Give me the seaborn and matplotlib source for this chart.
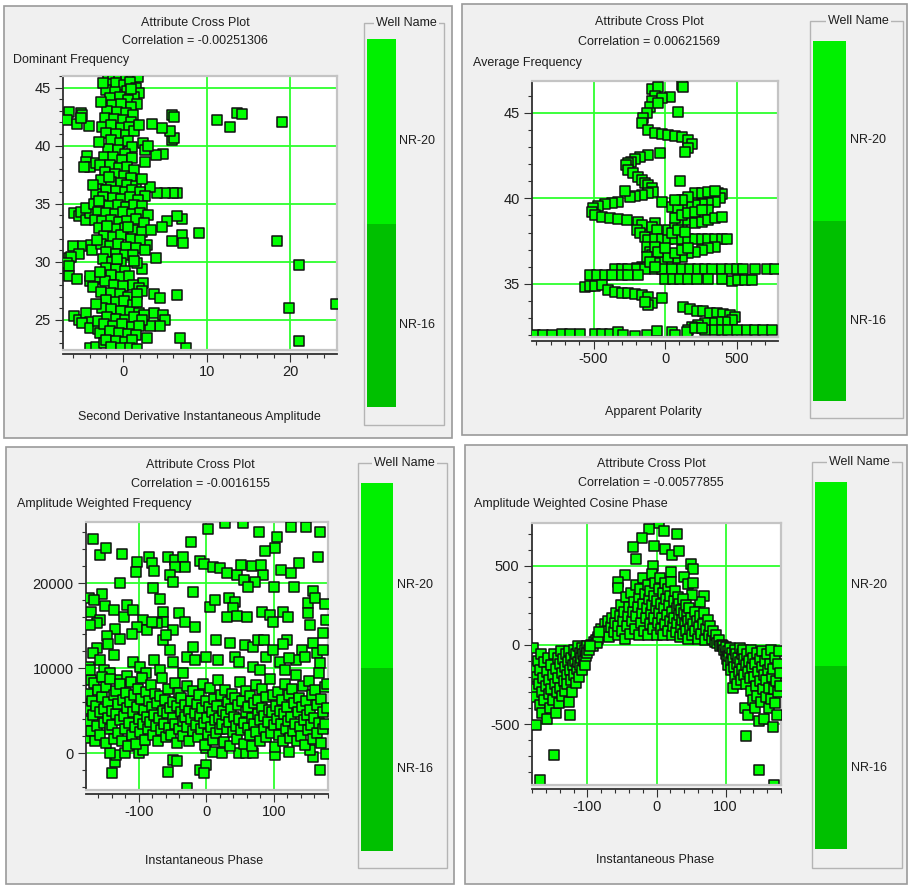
import numpy as np
import matplotlib
matplotlib.use("Agg")
import matplotlib.pyplot as plt
from matplotlib.patches import Rectangle
from matplotlib.ticker import MultipleLocator, FixedLocator
import seaborn as sns

plt.rcParams['font.family'] = ['Liberation Sans', 'DejaVu Sans']

# ---------------- data ----------------
titles = ["Attribute Cross Plot"] * 4
correlations = ["Correlation = -0.00251306", "Correlation = 0.00621569",
                "Correlation = -0.0016155", "Correlation = -0.00577855"]
y_names = ["Dominant Frequency", "Average Frequency",
           "Amplitude Weighted Frequency", "Amplitude Weighted Cosine Phase"]
x_names = ["Second Derivative Instantaneous Amplitude", "Apparent Polarity",
           "Instantaneous Phase", "Instantaneous Phase"]
wells = ["NR-20", "NR-16"]
well_colors = ["#00f000", "#00c000"]

# Panel 1: Second Derivative Instantaneous Amplitude vs Dominant Frequency
dom_freq_pts = [
    (11.2, 42.25), (12.8, 41.6), (13.6, 42.8), (14.2, 42.7), (19.0, 42.0), (18.4, 31.8),
    (21.1, 29.7), (19.8, 26.0), (25.5, 26.35), (21.1, 23.2), (9.1, 32.5), (7.5, 22.6),
    (6.8, 23.4), (6.4, 27.1), (5.8, 40.5), (6.1, 40.7), (5.9, 42.6), (6.1, 42.5),
    (6.5, 35.95), (6.0, 35.9), (5.0, 35.95), (7.0, 33.65), (6.5, 33.9), (7.0, 32.3),
    (7.2, 31.6), (5.8, 31.8), (5.6, 41.3), (4.7, 41.5), (4.8, 39.3), (3.9, 39.2),
    (4.0, 35.9), (3.2, 36.4), (5.2, 33.5), (4.7, 33.0), (3.9, 30.3), (2.8, 31.45),
    (3.7, 27.2), (4.4, 26.9), (3.7, 25.55), (4.8, 25.4), (5.0, 25.0), (4.4, 24.5),
    (3.2, 24.5), (2.8, 23.4), (3.4, 41.9), (2.2, 29.35), (2.4, 28.15),
    (-6.5, 42.9), (-5.1, 42.8), (-4.9, 42.6), (-6.7, 42.2), (-5.5, 41.9), (-4.1, 41.7),
    (-5.0, 42.4), (-4.3, 39.1), (-4.5, 38.6), (-4.0, 38.2), (-3.2, 38.5), (-4.7, 38.2),
    (-5.9, 34.2), (-5.3, 33.9), (-5.1, 34.3), (-4.4, 33.6), (-4.0, 34.2), (-4.5, 34.6),
    (-6.0, 31.4), (-4.8, 31.4), (-5.3, 30.7), (-3.9, 31.45), (-3.7, 31.0),
    (-6.5, 30.3), (-6.3, 30.45), (-6.7, 29.9), (-6.5, 29.6), (-6.5, 28.8),
    (-5.5, 28.5), (-4.0, 28.3), (-3.4, 28.5), (-3.0, 28.7), (-4.0, 28.8), (-3.6, 27.8),
    (-5.9, 25.3), (-5.3, 24.95), (-4.5, 25.6), (-4.0, 24.8), (-4.95, 24.7), (-4.0, 24.3),
    (-3.0, 24.2), (-3.0, 24.9), (-4.0, 22.6), (-3.2, 22.7), (-2.75, 23.85), (-2.35, 23.0),
    (-1.8, 45.9), (-1.2, 45.8), (-0.5, 45.9), (0.3, 45.8), (1.0, 45.9), (1.8, 45.9),
    (-1.5, 45.3), (-0.8, 45.4), (0.1, 45.2), (0.8, 45.5), (1.5, 45.0), (-2.0, 44.8),
    (-1.0, 44.6), (0.5, 44.7), (1.9, 44.5), (1.3, 44.2), (-1.6, 44.1), (-0.4, 44.2),
    (0.6, 43.9), (1.6, 43.6), (-1.3, 43.5), (-0.2, 43.6), (0.9, 43.3), (-1.9, 43.0),
    (-0.7, 42.9), (0.4, 42.8), (1.2, 42.6), (-2.2, 42.4), (-1.1, 42.3), (0.0, 42.2),
    (0.9, 42.0), (-2.5, 41.6), (-1.5, 41.8), (-0.3, 41.5), (0.7, 41.6), (-2.0, 41.1),
    (-0.9, 41.0), (0.3, 40.9), (1.3, 41.3), (-1.4, 40.5), (-0.4, 40.2), (0.6, 40.4),
    (1.0, 39.9), (2.4, 40.2), (2.6, 39.6), (3.0, 40.0), (-1.8, 39.7), (-0.6, 39.6),
    (0.2, 39.3), (-2.3, 39.0), (-1.2, 39.0), (-0.1, 38.8), (1.0, 38.9), (2.6, 38.6),
    (-2.8, 38.3), (-1.6, 38.3), (-0.5, 38.1), (0.5, 38.2), (1.3, 37.9), (-2.2, 37.7),
    (-1.0, 37.6), (0.1, 37.4), (0.9, 37.2), (-2.6, 37.0), (-1.4, 36.9), (-0.3, 36.8),
    (0.5, 36.6), (1.5, 36.5), (-3.0, 36.3), (-2.0, 36.2), (-0.8, 36.1), (0.2, 36.0),
    (1.0, 36.2), (2.0, 36.0), (2.6, 35.7), (-3.3, 35.8), (-2.4, 35.6), (-1.2, 35.5),
    (-0.2, 35.4), (0.8, 35.6), (1.8, 35.3), (-3.5, 35.0), (-2.7, 34.9), (-1.7, 34.8),
    (-0.6, 34.9), (0.4, 34.7), (1.3, 34.9), (2.3, 34.8), (-3.0, 34.3), (-2.0, 34.2),
    (-1.0, 34.1), (0.0, 34.3), (1.0, 34.1), (2.0, 34.2), (3.0, 34.0), (-3.4, 33.6),
    (-2.5, 33.5), (-1.5, 33.6), (-0.5, 33.4), (0.5, 33.5), (1.5, 33.7), (2.5, 33.3),
    (-2.9, 32.9), (-1.9, 32.9), (-0.9, 32.8), (0.2, 32.9), (1.2, 32.7), (2.2, 32.6),
    (3.3, 32.7), (-2.3, 32.2), (-1.2, 32.1), (-0.2, 32.3), (0.9, 32.0), (2.0, 31.9),
    (-2.7, 31.5), (-1.6, 31.4), (-0.6, 31.5), (0.4, 31.3), (1.5, 31.2), (2.6, 31.0),
    (-2.0, 30.8), (-0.9, 30.7), (0.2, 30.6), (1.2, 30.6), (-2.4, 30.2), (-1.3, 30.0),
    (-0.2, 29.9), (-2.0, 29.5), (-0.9, 29.4), (0.2, 29.2), (-1.5, 28.9), (-0.3, 28.7),
    (0.7, 28.8), (-2.2, 28.3), (-1.1, 28.0), (0.0, 27.9), (1.2, 28.0), (1.9, 27.7),
    (2.3, 27.5), (-2.6, 27.4), (-1.5, 27.3), (-0.4, 27.2), (0.6, 27.0), (1.6, 27.2),
    (-2.0, 26.7), (-0.9, 26.5), (0.1, 26.6), (1.2, 26.3), (-2.5, 26.0), (-1.4, 25.9),
    (-0.3, 25.8), (0.8, 25.7), (1.9, 25.6), (2.5, 25.4), (-1.9, 25.2), (-0.8, 25.1),
    (0.2, 25.0), (1.3, 25.2), (2.2, 25.0), (-2.3, 24.6), (-1.2, 24.5), (-0.1, 24.6),
    (1.0, 24.4), (1.9, 24.5), (-1.6, 24.0), (-0.5, 23.9), (0.6, 23.8), (1.5, 23.7),
    (-2.0, 23.3), (-0.9, 23.2), (0.2, 23.1), (1.1, 23.3), (-1.4, 22.7), (-0.3, 22.6),
    (0.8, 22.6), (1.6, 22.5),
    (-2.9, 35.2), (-1.9, 33.1), (-3.1, 31.9), (0.6, 33.0), (-0.7, 30.2), (1.7, 29.9),
    (-1.7, 37.3), (2.2, 37.1), (-3.6, 36.6), (-2.9, 40.3), (1.9, 41.8), (-2.6, 43.8),
    (0.9, 44.9), (-2.4, 45.4), (1.3, 30.1), (-3.3, 26.4), (1.7, 26.5), (-2.8, 29.1),
]

# Panel 2: Apparent Polarity vs Average Frequency
avg_freq_pts = [
    (-93, 46.4), (-47, 46.5), (-70, 46.0), (-93, 45.7), (-105, 45.35), (-128, 44.96),
    (-152, 44.67), (-163, 44.38), (35, 45.9), (89, 45.06), (117, 46.6), (128, 46.5),
    (-23, 45.84), (-47, 45.55),
    (-117, 43.99), (-70, 43.83), (-23, 43.75), (23, 43.7), (70, 43.64), (117, 43.56),
    (163, 43.4), (186, 43.17), (163, 42.92), (140, 42.72),
    (-35, 42.63), (-117, 42.53), (-175, 42.43), (-210, 42.28), (-238, 42.14), (-256, 42.04),
    (-275, 41.95), (-256, 41.65), (-221, 41.46), (-186, 41.26), (-163, 41.07), (-140, 40.91),
    (-117, 40.78), (-93, 40.58), (-82, 40.39), (-117, 40.29), (-163, 40.19), (-210, 40.14),
    (-245, 40.1), (-280, 40.45), (-23, 39.8), (107, 41.03),
    (-326, 39.8), (-373, 39.71), (-420, 39.67), (-466, 39.55), (-501, 39.42), (-513, 39.22),
    (-490, 39.03), (-443, 38.93), (-385, 38.87), (-326, 38.81), (-268, 38.74),
    (-191, 38.64), (-163, 38.44), (-198, 38.15), (-175, 37.96), (-140, 37.76), (-117, 37.57),
    (-128, 37.18), (-105, 36.89), (-93, 36.69), (-70, 38.54), (-93, 38.35), (-58, 38.15),
    (140, 39.9), (186, 40.0), (233, 40.1), (280, 40.19), (326, 40.29), (373, 40.33),
    (396, 40.25), (385, 40.0), (350, 39.8), (303, 39.71), (256, 39.67), (210, 39.61),
    (163, 39.55), (117, 39.51), (70, 39.71), (47, 39.51), (93, 39.42),
    (210, 40.33), (256, 40.33), (303, 40.39), (350, 40.45), (163, 40.1), (117, 39.9), (70, 39.9),
    (-70, 37.65), (-23, 37.65), (23, 37.65), (70, 37.65), (117, 37.65), (163, 37.65),
    (210, 37.65), (256, 37.65), (303, 37.65), (350, 37.65), (396, 37.65), (431, 37.65),
    (350, 37.18), (303, 37.08), (256, 36.98), (210, 36.89), (163, 36.79), (117, 36.6),
    (70, 36.5), (23, 36.4), (-23, 36.3), (-70, 36.2), (-117, 36.1), (-163, 36.01), (-198, 35.91),
    (-350, 35.86), (-303, 35.86), (-256, 35.86), (-198, 35.86), (-140, 35.86), (-70, 35.86),
    (-23, 35.86), (47, 35.86), (117, 35.86), (175, 35.86), (233, 35.86), (280, 35.86),
    (326, 35.86), (396, 35.86), (455, 35.86), (501, 35.86), (548, 35.86), (629, 35.86),
    (711, 35.86), (769, 35.86),
    (-524, 35.53), (-478, 35.53), (-420, 35.53), (-373, 35.53), (-303, 35.53), (-256, 35.53),
    (-186, 35.53),
    (0, 35.27), (58, 35.27), (105, 35.27), (163, 35.27), (221, 35.27), (303, 35.27),
    (396, 35.27), (466, 35.15), (513, 35.2), (559, 35.2), (606, 35.2),
    (-559, 34.84), (-524, 34.88), (-490, 34.88), (-443, 34.94), (-396, 34.65), (-350, 34.55),
    (-303, 34.49), (-256, 34.46), (-210, 34.42), (-163, 34.36), (-117, 34.26), (-93, 33.87),
    (-117, 33.77), (-140, 33.97), (-23, 34.2),
    (128, 33.64), (175, 33.52), (221, 33.44), (268, 33.39), (315, 33.33), (361, 33.29),
    (408, 33.25), (455, 33.19), (490, 33.09), (466, 32.9), (420, 32.8), (373, 32.78),
    (326, 32.74), (280, 32.7), (233, 32.6), (186, 32.47), (163, 32.32),
    (280, 32.28), (350, 32.28), (396, 32.28), (443, 32.28), (501, 32.28), (571, 32.33),
    (629, 32.33), (688, 32.33), (746, 32.33),
    (-909, 32.02), (-851, 32.02), (-793, 32.02), (-723, 32.07), (-664, 32.07), (-594, 32.07),
    (-490, 32.05), (-443, 32.05), (-385, 32.1), (-326, 32.2), (-291, 32.02), (-210, 31.97),
    (-128, 32.02), (-58, 32.26), (47, 32.22), (70, 32.02), (152, 32.22), (210, 32.41),
    (256, 32.41),
    (23, 36.6), (70, 36.79), (117, 36.98), (163, 37.08), (-70, 37.18), (-47, 36.89),
    (0, 37.08), (23, 38.15), (70, 38.35), (117, 38.54), (163, 38.74), (210, 38.93),
    (256, 39.12), (303, 39.32), (70, 38.83), (117, 39.03), (163, 39.12), (210, 39.22),
    (256, 39.32), (47, 37.96), (93, 38.15), (140, 38.05), (210, 38.54), (256, 38.64),
    (303, 38.74), (350, 38.83), (396, 38.93), (-128, 36.6), (-105, 36.3), (-70, 36.01),
]

# Panel 3: Instantaneous Phase vs Amplitude Weighted Frequency
awf_pts = [
    (-168, 25170), (-158, 23320), (-148, 24110), (-125, 23400), (-128, 20070), (-103, 22540),
    (-104, 21290), (-85, 23130), (-80, 22340), (-77, 21440), (-79, 19480), (-154, 18780),
    (-173, 18310), (-166, 18030), (-171, 16660), (-150, 17330), (-136, 16860), (-22, 24810),
    (3, 26340), (28, 27120), (54, 27050), (78, 26070), (105, 25480), (126, 26660),
    (147, 26660), (168, 26070), (101, 24110), (87, 23790), (165, 23050), (137, 22420),
    (111, 21560), (126, 21250), (84, 20970), (72, 20190), (100, 19600), (129, 19600),
    (158, 19130), (-56, 23050), (-46, 22740), (-34, 23050), (-32, 21950), (-46, 21950),
    (-53, 20970), (-50, 20190), (-10, 22660), (-3, 22270), (10, 21950), (20, 21760),
    (30, 21170), (46, 20970), (51, 22150), (68, 22030), (81, 22150), (55, 20380),
    (62, 19600), (-20, 18930), (-69, 18110), (-64, 16660), (-41, 16460), (-32, 15480),
    (-17, 14900), (5, 17250), (13, 18030), (33, 18230), (42, 17840), (40, 17050),
    (30, 16070), (46, 16150), (60, 16070), (82, 16660), (94, 16270), (99, 15480),
    (114, 16660), (121, 16070), (150, 17720), (161, 18230), (176, 17560), (177, 15680),
    (151, 16460), (153, 15090), (172, 14110), (158, 12940), (141, 12150), (133, 10980),
    (119, 13330), (114, 12860), (146, 11370), (163, 11760), (172, 12150), (168, 10580),
    (-118, 17440), (-122, 16070), (-108, 16860), (-93, 15680), (-103, 14900), (-110, 14030),
    (-128, 13410), (-135, 14580), (-147, 13800), (-146, 12860), (-162, 12350), (-167, 11760),
    (-157, 10980), (-173, 10190), (-176, 9410), (-170, 8620), (-152, 9800), (-137, 11560),
    (-142, 9410), (-128, 8620), (-118, 9090), (-108, 10780), (-98, 10190), (-89, 9410),
    (-78, 10980), (-68, 9800), (-54, 12150), (-49, 10780), (-34, 9410), (-29, 11370),
    (-19, 12540), (-17, 10980), (0, 11370), (15, 13330), (18, 10980), (35, 12940),
    (42, 11370), (49, 10780), (57, 12740), (69, 12540), (76, 13330), (86, 13330),
    (69, 10190), (79, 9800), (89, 11370), (99, 12150), (109, 10780), (116, 9800),
    (123, 11170), (-64, 15480), (-49, 14500), (-64, 13330), (-59, 13920), (-88, 14500),
    (-73, 15290), (-80, 15480), (-157, 15680), (-162, 15290), (-172, 15090),
    (-140, -2350), (-135, -980), (-49, -780), (-44, -900), (-56, -2160), (-9, -1960),
    (0, -1370), (-3, -2350), (-28, -4120), (168, -1960), (158, -470), (177, -80),
    (-133, -200), (-142, 0), (-120, 0), (-99, 0), (-93, 390), (0, 590), (10, 200),
    (23, 0), (49, 0), (59, 0), (69, 0), (101, -200), (123, 200), (153, 390),
    (-178, 5200), (-176, 1800), (-175, 7000), (-173, 3800), (-172, 9800), (-170, 2600),
    (-169, 6200), (-167, 4500), (-166, 8300), (-164, 1500), (-163, 5600), (-161, 3200),
    (-160, 7400), (-158, 4800), (-157, 2100), (-155, 6600), (-154, 9000), (-152, 3600),
    (-151, 5200), (-149, 1200), (-148, 7800), (-146, 4200), (-145, 6000), (-143, 2800),
    (-142, 8700), (-140, 5000), (-139, 3300), (-137, 6900), (-136, 1700), (-134, 4600),
    (-133, 7300), (-131, 2400), (-130, 5800), (-128, 3900), (-127, 8100), (-125, 1400),
    (-124, 6300), (-122, 4400), (-121, 2900), (-119, 7100), (-118, 5300), (-116, 900),
    (-115, 3600), (-113, 6000), (-112, 8400), (-110, 2200), (-109, 4900), (-107, 6800),
    (-106, 3100), (-104, 1100), (-103, 5400), (-101, 7600), (-100, 4000), (-98, 2500),
    (-97, 6400), (-95, 8900), (-94, 3500), (-92, 5100), (-91, 1600), (-89, 7200),
    (-88, 4300), (-86, 2900), (-85, 6100), (-83, 3700), (-82, 8000), (-80, 5500),
    (-79, 2100), (-77, 4500), (-76, 7000), (-74, 3200), (-73, 5900), (-71, 1500),
    (-70, 4100), (-68, 6700), (-67, 2700), (-65, 8800), (-64, 5000), (-62, 3500),
    (-61, 6300), (-59, 1900), (-58, 4700), (-56, 7500), (-55, 3000), (-53, 5300),
    (-52, 2200), (-50, 6000), (-49, 4200), (-47, 8300), (-46, 3400), (-44, 1200),
    (-43, 5600), (-41, 7100), (-40, 2800), (-38, 4900), (-37, 6500), (-35, 3800),
    (-34, 2000), (-32, 5700), (-31, 4300), (-29, 7900), (-28, 3100), (-26, 5000),
    (-25, 1400), (-23, 6200), (-22, 4000), (-20, 2600), (-19, 7300), (-17, 4700),
    (-16, 3300), (-14, 5800), (-13, 1900), (-11, 6900), (-10, 4400), (-8, 2900),
    (-7, 5300), (-5, 8200), (-4, 3600), (-2, 1000), (-1, 6100), (1, 4200),
    (2, 2300), (4, 5400), (5, 7700), (7, 3100), (8, 4800), (10, 1600),
    (11, 6400), (13, 3900), (14, 2400), (16, 5600), (17, 8600), (19, 4100),
    (20, 2800), (22, 6800), (23, 3400), (25, 5000), (26, 1300), (28, 7400),
    (29, 4500), (31, 2900), (32, 6000), (34, 3700), (35, 800), (37, 5200),
    (38, 7000), (40, 2500), (41, 4300), (43, 6500), (44, 3200), (46, 1700),
    (47, 5700), (49, 4000), (50, 8400), (52, 2700), (53, 6100), (55, 3600),
    (56, 1100), (58, 4900), (59, 7300), (61, 3000), (62, 5500), (64, 2100),
    (65, 6700), (67, 4200), (68, 900), (70, 3500), (71, 5900), (73, 8000),
    (74, 2500), (76, 4600), (77, 6300), (79, 1500), (80, 3900), (82, 5300),
    (83, 7500), (85, 2800), (86, 4400), (88, 6600), (89, 1900), (91, 3700),
    (92, 5100), (94, 8700), (95, 2400), (97, 4800), (98, 6900), (100, 3300),
    (101, 700), (103, 5600), (104, 4000), (106, 7200), (107, 2100), (109, 5000),
    (110, 3500), (112, 6300), (113, 1400), (115, 4600), (116, 8100), (118, 2900),
    (119, 5400), (121, 3800), (122, 6800), (124, 1800), (125, 4300), (127, 7600),
    (128, 2600), (130, 5900), (131, 3400), (133, 9200), (134, 1500), (136, 4900),
    (137, 6500), (139, 3100), (140, 2000), (142, 5500), (143, 7900), (145, 3900),
    (146, 1000), (148, 6200), (149, 4500), (151, 2700), (152, 8500), (154, 5100),
    (155, 3300), (157, 6900), (158, 1700), (160, 4200), (161, 7400), (163, 2400),
    (164, 5700), (166, 9400), (167, 3600), (169, 1200), (170, 6400), (172, 4800),
    (173, 2900), (175, 7800), (176, 3500), (178, 5300), (179, 8200),
]

# Panel 4: Instantaneous Phase vs Amplitude Weighted Cosine Phase
awcp_pts = [
    (-148, -694), (-169, -852), (129, -574), (148, -789), (170, -883), (-174, -505),
    (-125, -442),
    (3, 768), (-11, 730), (11, 721), (29, 698), (-21, 673), (-34, 620), (-3, 625),
    (13, 604), (23, 568), (32, 595), (-29, 540), (-5, 498), (21, 458), (-46, 442),
    (-55, 400), (-55, 358), (50, 511), (53, 477), (40, 427), (46, 385), (53, 389),
    (69, 309), (63, 273), (52, 315),
    (-90, 20), (-85, 40), (-82, 70), (-80, 100), (-78, 60), (-75, 130), (-72, 90),
    (-70, 150), (-68, 50), (-66, 110), (-64, 170), (-62, 80), (-60, 140), (-58, 200),
    (-56, 60), (-55, 120), (-53, 180), (-52, 250), (-50, 90), (-48, 150), (-47, 210),
    (-45, 40), (-44, 300), (-43, 120), (-41, 180), (-40, 240), (-38, 70), (-37, 330),
    (-36, 150), (-34, 210), (-33, 270), (-31, 100), (-30, 380), (-29, 180), (-27, 240),
    (-26, 300), (-25, 60), (-24, 350), (-22, 140), (-21, 200), (-20, 260), (-19, 420),
    (-18, 90), (-17, 320), (-15, 170), (-14, 230), (-13, 380), (-12, 60), (-11, 290),
    (-10, 130), (-9, 340), (-8, 200), (-7, 450), (-6, 250), (-5, 100), (-4, 310),
    (-3, 170), (-2, 390), (-1, 230), (0, 60), (1, 280), (2, 140), (3, 350), (4, 200),
    (5, 420), (6, 100), (7, 260), (8, 170), (9, 330), (10, 60), (11, 230), (12, 390),
    (13, 130), (14, 290), (15, 190), (16, 350), (17, 90), (18, 250), (19, 150),
    (20, 310), (21, 400), (22, 60), (23, 210), (24, 120), (25, 280), (26, 170),
    (27, 340), (28, 80), (29, 230), (30, 140), (31, 300), (32, 190), (33, 260),
    (34, 50), (35, 110), (36, 220), (37, 160), (38, 290), (39, 70), (40, 200),
    (41, 130), (42, 250), (43, 90), (44, 180), (45, 40), (46, 150), (47, 230),
    (48, 100), (50, 170), (52, 60), (53, 130), (55, 210), (56, 90), (58, 150),
    (60, 40), (62, 110), (63, 180), (65, 70), (67, 130), (69, 200), (70, 30),
    (72, 100), (74, 160), (76, 60), (78, 120), (80, 40), (82, 90), (84, 20),
    (86, 60), (88, 10), (90, 30), (92, -10), (94, 0),
    (-95, 0), (-100, -10), (-92, -5), (-88, 30), (-86, 10), (-84, 50), (-83, 80),
    (-178, -20), (-176, -150), (-175, -280), (-174, -330), (-173, -200), (-172, -100),
    (-170, -250), (-169, -380), (-168, -160), (-167, -60), (-166, -300), (-165, -430),
    (-164, -210), (-163, -110), (-162, -350), (-160, -260), (-159, -170), (-158, -470),
    (-157, -80), (-156, -310), (-155, -220), (-154, -400), (-153, -130), (-152, -280),
    (-150, -190), (-149, -350), (-148, -60), (-147, -250), (-146, -430), (-145, -150),
    (-144, -300), (-143, -80), (-142, -210), (-141, -370), (-140, -120), (-139, -270),
    (-138, -40), (-137, -180), (-136, -320), (-135, -90), (-134, -230), (-133, -140),
    (-132, -290), (-131, -60), (-130, -190), (-129, -250), (-128, -110), (-127, -360),
    (-126, -40), (-125, -160), (-124, -220), (-123, -80), (-122, -300), (-121, -130),
    (-120, -30), (-119, -190), (-118, -100), (-117, -240), (-116, -60), (-115, -150),
    (-114, -10), (-113, -110), (-112, -200), (-111, -50), (-110, -130), (-109, -80),
    (-108, -20), (-107, -160), (-106, -60), (-105, -100), (-104, -30), (-103, -130),
    (-102, -70), (-101, -10), (-100, -50), (-98, -30), (-96, -10),
    (96, -5), (98, -30), (100, -60), (101, -15), (102, -90), (103, -40), (104, -130),
    (105, -70), (106, -20), (107, -110), (108, -160), (109, -50), (110, -270), (111, -90),
    (112, -140), (113, -30), (114, -200), (115, -60), (116, -120), (117, -250), (118, -80),
    (119, -170), (120, -20), (121, -110), (122, -220), (123, -60), (124, -150), (125, -30),
    (126, -190), (127, -90), (128, -400), (129, -130), (130, -250), (131, -60), (132, -170),
    (133, -440), (134, -100), (135, -210), (136, -30), (137, -290), (138, -140), (139, -350),
    (140, -80), (141, -200), (142, -400), (143, -120), (144, -260), (145, -50), (146, -320),
    (147, -170), (148, -480), (149, -90), (150, -230), (151, -360), (152, -140), (153, -40),
    (154, -280), (155, -190), (156, -470), (157, -100), (158, -330), (159, -220), (160, -60),
    (161, -160), (162, -400), (163, -270), (164, -120), (165, -340), (166, -30), (167, -200),
    (168, -520), (169, -150), (170, -280), (171, -80), (172, -370), (173, -230), (174, -440),
    (175, -120), (176, -300), (177, -40), (178, -180), (179, -260),
]

panel_points = [dom_freq_pts, avg_freq_pts, awf_pts, awcp_pts]
x_limits = [(-7.2, 25.6), (-930, 790), (-178, 180), (-180, 180)]
y_limits = [(22.4, 46.0), (31.9, 46.85), (-4320, 27200), (-885, 770)]
x_major = [[0, 10, 20], [-500, 0, 500], [-100, 0, 100], [-100, 0, 100]]
y_major = [[25, 30, 35, 40, 45], [35, 40, 45], [0, 10000, 20000], [-500, 0, 500]]
x_minor_step = [2, 100, 20, 20]
y_minor_step = [1, 1, 2000, 100]

# ---------------- layout (pixels) ----------------
W, H = 909, 885
fig = plt.figure(figsize=(W / 100, H / 100), dpi=100)
fig.patch.set_facecolor("white")

def fx(x):
    return x / W

def fy(y):
    return 1 - y / H

panel_frames = [(4, 6, 452, 438), (462, 4, 907, 435), (6, 447, 454, 884), (465, 445, 907, 884)]
axes_boxes = [(63, 76, 337, 350), (532, 81, 778, 337), (86, 522, 328, 790), (532, 523, 781, 785)]
title_pos = [(195, 23, 41), (649, 22, 42), (200, 465, 484), (651, 464, 483)]
ylabel_pos = [(13, 60), (473, 63), (17, 504), (474, 504)]
xlabel_pos = [(199, 417), (653, 412), (204, 861), (655, 860)]
legend_box = [(364, 23, 444, 425), (810, 21, 903, 418), (358, 463, 447, 868), (812, 462, 902, 868)]
legend_bar = [(367, 39, 396, 407, 224), (813, 41, 846, 401, 221), (361, 483, 393, 851, 668), (815, 482, 847, 849, 666)]
legend_lbl = [(399, 141, 325), (850, 140, 321), (397, 585, 769), (851, 585, 768)]

txt_color = "#1e1e1e"
fs = 9.0

for i in range(4):
    l, t, r, b = panel_frames[i]
    fig.add_artist(Rectangle((fx(l), fy(b)), fx(r) - fx(l), fy(t) - fy(b), transform=fig.transFigure,
                             facecolor="#f0f0f0", edgecolor="#9a9a9a", lw=1.2, zorder=-5))

    l, t, r, b = axes_boxes[i]
    ax = fig.add_axes([fx(l), fy(b), fx(r) - fx(l), fy(t) - fy(b)])
    ax.set_facecolor("white")
    pts = np.array(panel_points[i], dtype=float)
    sns.scatterplot(x=pts[:, 0], y=pts[:, 1], ax=ax, marker="s", s=48, color="#00ff00",
                    edgecolor="#101010", linewidth=1.1, zorder=3, legend=False)
    ax.set_xlim(*x_limits[i])
    ax.set_ylim(*y_limits[i])
    ax.xaxis.set_major_locator(FixedLocator(x_major[i]))
    ax.yaxis.set_major_locator(FixedLocator(y_major[i]))
    ax.xaxis.set_minor_locator(MultipleLocator(x_minor_step[i]))
    ax.yaxis.set_minor_locator(MultipleLocator(y_minor_step[i]))
    ax.set_xticklabels([str(v) for v in x_major[i]])
    ax.set_yticklabels([str(v) for v in y_major[i]])
    ax.grid(True, which="major", color="#2dff2d", lw=1.3, zorder=1)
    ax.set_axisbelow(True)
    ax.tick_params(which="major", direction="out", length=5.5, width=0.8, color="#303030",
                   labelsize=10.5, labelcolor=txt_color, pad=2.5)
    ax.tick_params(which="minor", direction="out", length=3.2, width=0.8, color="#303030")
    ax.tick_params(axis="y", which="major", pad=3.5)
    for side in ("top", "right"):
        ax.spines[side].set_color("#c4c4c4")
        ax.spines[side].set_linewidth(1.6)
    ax.spines["left"].set_color("#303030")
    ax.spines["left"].set_linewidth(1.3)
    ax.spines["bottom"].set_color("#303030")
    ax.spines["bottom"].set_linewidth(1.3)
    ax.spines["bottom"].set_position(("outward", 3))
    ax.plot([0, 1], [0, 0], transform=ax.transAxes, color="#c4c4c4", lw=1.6, clip_on=False, zorder=4)
    ax.set_xlabel("")
    ax.set_ylabel("")

    cx, ty1, ty2 = title_pos[i]
    fig.text(fx(cx), fy(ty1), titles[i], ha="center", va="center", fontsize=fs, color=txt_color)
    fig.text(fx(cx), fy(ty2), correlations[i], ha="center", va="center", fontsize=fs, color=txt_color)
    yx, yy = ylabel_pos[i]
    fig.text(fx(yx), fy(yy), y_names[i], ha="left", va="center", fontsize=fs, color=txt_color)
    xx, xy = xlabel_pos[i]
    fig.text(fx(xx), fy(xy), x_names[i], ha="center", va="center", fontsize=fs, color=txt_color)

    # legend group box
    l, t, r, b = legend_box[i]
    fig.add_artist(Rectangle((fx(l), fy(b)), fx(r) - fx(l), fy(t) - fy(b), transform=fig.transFigure,
                             facecolor="none", edgecolor="#b4b4b4", lw=1.0, zorder=1))
    fig.text(fx((l + r) / 2 + 2), fy(t), "Well Name", ha="center", va="center", fontsize=fs,
             color=txt_color, zorder=3,
             bbox=dict(facecolor="#f0f0f0", edgecolor="none", pad=1.5))
    bl, bt, br, bb, split = legend_bar[i]
    fig.add_artist(Rectangle((fx(bl), fy(split)), fx(br) - fx(bl), fy(bt) - fy(split),
                             transform=fig.transFigure, facecolor=well_colors[0], edgecolor="none", zorder=2))
    fig.add_artist(Rectangle((fx(bl), fy(bb)), fx(br) - fx(bl), fy(split) - fy(bb),
                             transform=fig.transFigure, facecolor=well_colors[1], edgecolor="none", zorder=2))
    lx, ly1, ly2 = legend_lbl[i]
    fig.text(fx(lx), fy(ly1), wells[0], ha="left", va="center", fontsize=fs, color=txt_color)
    fig.text(fx(lx), fy(ly2), wells[1], ha="left", va="center", fontsize=fs, color=txt_color)

fig.savefig("out.png", dpi=100, facecolor=fig.get_facecolor())
